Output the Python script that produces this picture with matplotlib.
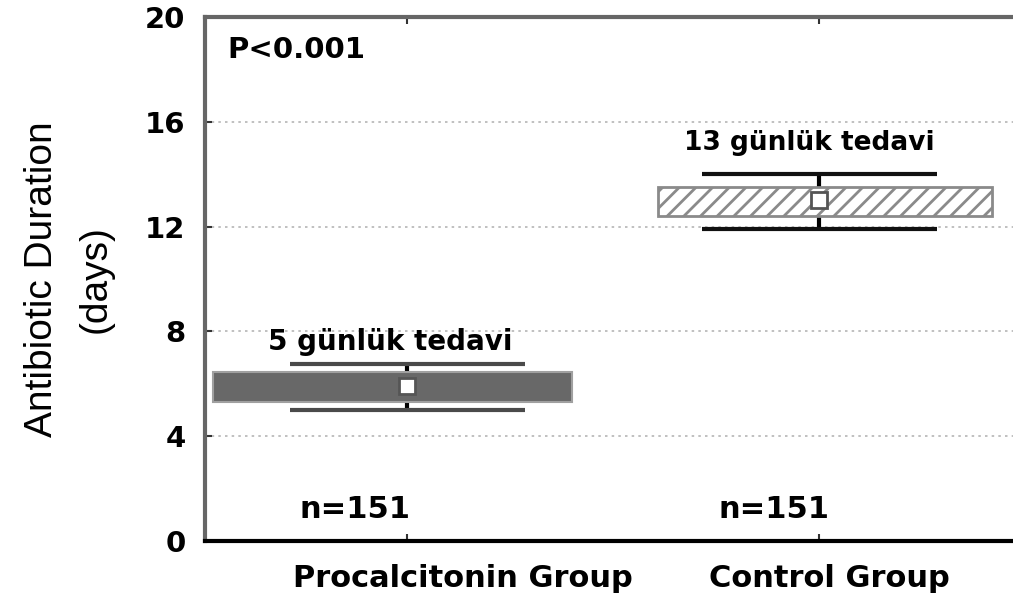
import matplotlib.pyplot as plt

# Values
groups = ['Procalcitonin Group', 'Control Group']
positions = [1, 2]
medians = [5.9, 13.0]
box_low = [5.3, 12.4]
box_high = [6.45, 13.5]
whisker_low = [5.0, 11.9]
whisker_high = [6.75, 14.0]
n_counts = [151, 151]
notes = ['5 günlük tedavi', '13 günlük tedavi']
p_text = 'P<0.001'
y_ticks = [0, 4, 8, 12, 16, 20]

# layout bits (box extents, label anchors)
box_left = [0.53, 1.61]
box_right = [1.40, 2.42]
cap_half = 0.285
note_x = [0.96, 1.977]
note_y = [7.29, 14.92]
note_size = [20, 19]
n_x = [0.875, 1.89]
label_x = [1.135, 2.025]

fig = plt.figure(figsize=(10.13, 5.97), dpi=100)
ax = fig.add_axes([0.2024, 0.0938, 0.7976, 0.8777])

bold = dict(family='DejaVu Sans', weight='bold')

# dotted grid
for yv in y_ticks[1:-1]:
    ax.axhline(yv, color='#b5b5b5', lw=1.2, ls=(0, (1.5, 2.5)), zorder=0)

plt.rcParams['hatch.color'] = '#4a4a4a'
plt.rcParams['hatch.linewidth'] = 2.0

# Procalcitonin box (solid grey)
ax.bar(box_left[0], box_high[0] - box_low[0], width=box_right[0] - box_left[0],
       bottom=box_low[0], align='edge', color='#686868', edgecolor='#a0a0a0',
       lw=1.5, zorder=2)
# Control box (hatched)
ax.bar(box_left[1], box_high[1] - box_low[1], width=box_right[1] - box_left[1],
       bottom=box_low[1], align='edge', color='white', edgecolor='#8a8a8a',
       hatch='//', lw=2, zorder=2)

cap_colors = ['#4a4a4a', '#111111']
for i, p in enumerate(positions):
    ax.vlines(p, whisker_low[i], whisker_high[i], color='black', lw=3, zorder=1)
    ax.hlines([whisker_low[i], whisker_high[i]], p - cap_half, p + cap_half,
              color=cap_colors[i], lw=3, zorder=3)
    ax.plot(p, medians[i], marker='s', ms=11, mfc='white', mec='#555555',
            mew=2, zorder=4)
    ax.text(note_x[i], note_y[i], notes[i], ha='center', va='baseline',
            fontsize=note_size[i], **bold)
    ax.text(n_x[i], 0.88, 'n=%d' % n_counts[i], ha='center', va='baseline',
            fontsize=22, **bold)
    ax.text(label_x[i], -0.088, groups[i], ha='center', va='baseline',
            transform=ax.get_xaxis_transform(), fontsize=22, **bold)

ax.text(0.565, 18.74, p_text, ha='left', va='center', fontsize=21, **bold)

ax.set_xlim(0.51, 2.47)
ax.set_ylim(0, 20)
ax.set_yticks(y_ticks)
ax.set_yticklabels([str(v) for v in y_ticks], fontsize=21, **bold)
ax.set_xticks(positions)
ax.set_xticklabels([])
ax.tick_params(axis='both', direction='in', length=5, width=1.5, color='#333333',
               top=True)
ax.tick_params(axis='y', pad=14)

ax.set_ylabel('Antibiotic Duration\n(days)', fontsize=28,
              family='Liberation Sans', linespacing=1.6, labelpad=23)

for s in ['left', 'top']:
    ax.spines[s].set_color('#666666')
    ax.spines[s].set_linewidth(3)
ax.spines['bottom'].set_color('black')
ax.spines['bottom'].set_linewidth(3)
ax.spines['right'].set_visible(False)

fig.savefig('out.png', dpi=100)
